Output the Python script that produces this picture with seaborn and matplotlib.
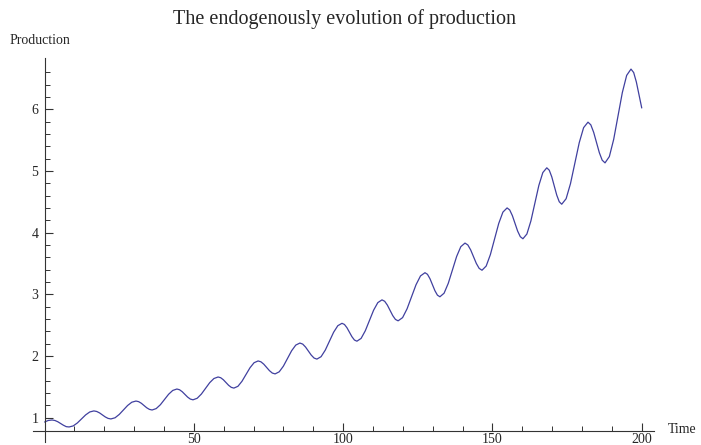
import pandas as pd
import matplotlib.pyplot as plt
import seaborn as sns

#values (peaks, troughs and points in between)
time = [0, 1.2, 2.5,
        3.45, 4.4, 5.35, 6.3, 7.25, 8.2,
        9.58, 10.97, 12.35, 13.73, 15.12, 16.5,
        17.45, 18.4, 19.35, 20.3, 21.25, 22.2,
        23.6, 25.0, 26.4, 27.8, 29.2, 30.6,
        31.5, 32.4, 33.3, 34.2, 35.1, 36.0,
        37.38, 38.77, 40.15, 41.53, 42.92, 44.3,
        45.2, 46.1, 47.0, 47.9, 48.8, 49.7,
        51.1, 52.5, 53.9, 55.3, 56.7, 58.1,
        58.98, 59.87, 60.75, 61.63, 62.52, 63.4,
        64.75, 66.1, 67.45, 68.8, 70.15, 71.5,
        72.45, 73.4, 74.35, 75.3, 76.25, 77.2,
        78.58, 79.97, 81.35, 82.73, 84.12, 85.5,
        86.45, 87.4, 88.35, 89.3, 90.25, 91.2,
        92.6, 94.0, 95.4, 96.8, 98.2, 99.6,
        100.43, 101.27, 102.1, 102.93, 103.77, 104.6,
        106.0, 107.4, 108.8, 110.2, 111.6, 113.0,
        113.9, 114.8, 115.7, 116.6, 117.5, 118.4,
        119.9, 121.4, 122.9, 124.4, 125.9, 127.4,
        128.23, 129.07, 129.9, 130.73, 131.57, 132.4,
        133.8, 135.2, 136.6, 138.0, 139.4, 140.8,
        141.75, 142.7, 143.65, 144.6, 145.55, 146.5,
        147.9, 149.3, 150.7, 152.1, 153.5, 154.9,
        155.78, 156.67, 157.55, 158.43, 159.32, 160.2,
        161.53, 162.87, 164.2, 165.53, 166.87, 168.2,
        169.03, 169.87, 170.7, 171.53, 172.37, 173.2,
        174.67, 176.13, 177.6, 179.07, 180.53, 182.0,
        182.95, 183.9, 184.85, 185.8, 186.75, 187.7,
        189.15, 190.6, 192.05, 193.5, 194.95, 196.4,
        197.3, 198.2, 199.1, 200.0]

production = [0.93, 0.955, 0.963,
              0.955, 0.935, 0.906, 0.878, 0.855, 0.85,
              0.867, 0.915, 0.98, 1.045, 1.093, 1.11,
              1.101, 1.078, 1.045, 1.013, 0.989, 0.98,
              0.999, 1.053, 1.125, 1.198, 1.251, 1.27,
              1.26, 1.234, 1.198, 1.161, 1.135, 1.125,
              1.148, 1.21, 1.295, 1.38, 1.442, 1.465,
              1.453, 1.421, 1.378, 1.334, 1.302, 1.29,
              1.315, 1.383, 1.475, 1.568, 1.635, 1.66,
              1.648, 1.615, 1.57, 1.525, 1.492, 1.48,
              1.509, 1.59, 1.70, 1.81, 1.891, 1.92,
              1.906, 1.868, 1.815, 1.763, 1.724, 1.71,
              1.744, 1.835, 1.96, 2.085, 2.177, 2.21,
              2.193, 2.145, 2.08, 2.015, 1.967, 1.95,
              1.989, 2.095, 2.24, 2.385, 2.491, 2.53,
              2.511, 2.458, 2.385, 2.313, 2.259, 2.24,
              2.285, 2.408, 2.575, 2.743, 2.865, 2.91,
              2.887, 2.825, 2.74, 2.655, 2.593, 2.57,
              2.622, 2.765, 2.96, 3.155, 3.298, 3.35,
              3.324, 3.253, 3.155, 3.058, 2.986, 2.96,
              3.018, 3.178, 3.395, 3.613, 3.772, 3.83,
              3.80, 3.72, 3.61, 3.50, 3.42, 3.39,
              3.458, 3.643, 3.895, 4.148, 4.332, 4.40,
              4.367, 4.275, 4.15, 4.025, 3.934, 3.90,
              3.977, 4.188, 4.475, 4.763, 4.973, 5.05,
              5.011, 4.903, 4.755, 4.608, 4.50, 4.46,
              4.549, 4.793, 5.125, 5.458, 5.701, 5.79,
              5.746, 5.625, 5.46, 5.295, 5.174, 5.13,
              5.232, 5.51, 5.89, 6.27, 6.548, 6.65,
              6.594, 6.44, 6.23, 6.02]

x_ticks = [50, 100, 150, 200]
y_ticks = [1, 2, 3, 4, 5, 6]

df = pd.DataFrame({"Time": time, "Production": production})

sns.set_style("ticks")
plt.rcParams["font.family"] = ["Liberation Serif", "DejaVu Serif"]

fig = plt.figure(figsize=(7.01, 4.45), dpi=100)
ax = fig.add_axes([0.0466, 0.0067, 0.8859, 0.863])

sns.lineplot(data=df, x="Time", y="Production", ax=ax, color="#40409f", linewidth=0.9)

ax.set_xlim(-4, 204)
ax.set_ylim(0.606, 6.83)

#mathematica style axes crossing at the origin
ax.spines["left"].set_position(("data", 0))
ax.spines["bottom"].set_position(("data", 0.79))
ax.spines["top"].set_visible(False)
ax.spines["right"].set_visible(False)
for s in ["left", "bottom"]:
    ax.spines[s].set_color("#333333")
    ax.spines[s].set_linewidth(0.8)

ax.set_xticks(x_ticks)
ax.set_xticks([t for t in range(10, 201, 10) if t not in x_ticks], minor=True)
ax.set_yticks(y_ticks)
ax.set_yticks([round(1 + 0.2 * i, 1) for i in range(1, 29) if (1 + 0.2 * i) % 1 > 0.05 and (1 + 0.2 * i) % 1 < 0.95], minor=True)

ax.tick_params(axis="both", which="major", direction="in", length=5.5, width=0.8, color="#333333", labelsize=10)
ax.tick_params(axis="both", which="minor", direction="in", length=3.3, width=0.7, color="#333333")
ax.tick_params(axis="x", which="major", pad=1.5)
ax.tick_params(axis="y", which="major", pad=4.5)

ax.set_xlabel("")
ax.set_ylabel("")

fig.text(0.013, 0.91, "Production", ha="left", va="center", fontsize=10)
fig.text(0.953, 0.034, "Time", ha="left", va="center", fontsize=10)
fig.text(0.491, 0.958, "The endogenously evolution of production", ha="center", va="center", fontsize=14.5)

fig.savefig("out.png", dpi=100)
